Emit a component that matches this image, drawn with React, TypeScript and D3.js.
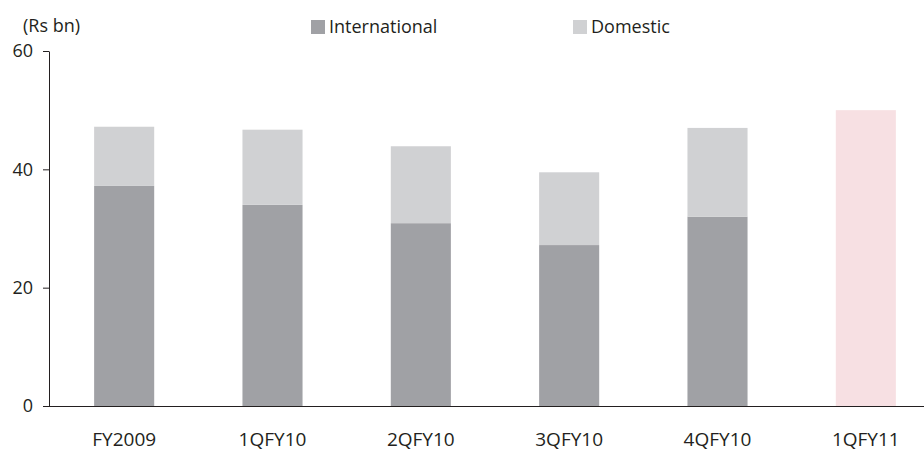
import React, { useRef, useEffect } from "react";
import * as d3 from "d3";

// values in Rs bn
const categories = ["FY2009", "1QFY10", "2QFY10", "3QFY10", "4QFY10", "1QFY11"];
const international = [37.2, 34.0, 30.9, 27.2, 32.0, 0];
const domestic = [10.0, 12.7, 13.0, 12.3, 15.0, 0];
const projected = [0, 0, 0, 0, 0, 50.0];
const yTicks = [0, 20, 40, 60];
const legendLabels = ["International", "Domestic"];

const WIDTH = 924;
const HEIGHT = 452;
const FONT = "'Open Sans', sans-serif";

const colors = {
  international: "#a0a1a5",
  domestic: "#d0d1d3",
  projected: "#f7e0e3",
  axis: "#231f20",
};

interface Row {
  cat: string;
  intl: number;
  dom: number;
  proj: number;
}

const App: React.FC = () => {
  const chartRef = useRef<SVGSVGElement | null>(null);

  useEffect(() => {
    if (!chartRef.current) return;
    const svg = d3.select(chartRef.current);
    svg.selectAll("*").remove();

    const rows: Row[] = categories.map((cat, i) => ({
      cat,
      intl: international[i],
      dom: domestic[i],
      proj: projected[i],
    }));

    const x = d3
      .scaleBand()
      .domain(categories)
      .range([50, 940])
      .paddingInner(0.595)
      .paddingOuter(0.2975);

    const y = d3.scaleLinear().domain([0, 60]).range([406, 51]);

    const axisX = 49;

    // bars
    const bars = svg.append("g");
    bars
      .selectAll("rect.intl")
      .data(rows.filter((d) => d.intl > 0))
      .enter()
      .append("rect")
      .attr("class", "intl")
      .attr("x", (d) => x(d.cat)!)
      .attr("width", x.bandwidth())
      .attr("y", (d) => y(d.intl))
      .attr("height", (d) => y(0) - y(d.intl))
      .attr("fill", colors.international);

    bars
      .selectAll("rect.dom")
      .data(rows.filter((d) => d.dom > 0))
      .enter()
      .append("rect")
      .attr("class", "dom")
      .attr("x", (d) => x(d.cat)!)
      .attr("width", x.bandwidth())
      .attr("y", (d) => y(d.intl + d.dom))
      .attr("height", (d) => y(d.intl) - y(d.intl + d.dom))
      .attr("fill", colors.domestic);

    bars
      .selectAll("rect.proj")
      .data(rows.filter((d) => d.proj > 0))
      .enter()
      .append("rect")
      .attr("class", "proj")
      .attr("x", (d) => x(d.cat)!)
      .attr("width", x.bandwidth())
      .attr("y", (d) => y(d.proj))
      .attr("height", (d) => y(0) - y(d.proj))
      .attr("fill", colors.projected);

    // y axis
    const yAxis = svg
      .append("g")
      .attr("transform", `translate(${axisX},0)`)
      .call(
        d3
          .axisLeft(y)
          .tickValues(yTicks)
          .tickSize(6)
          .tickSizeOuter(0)
          .tickPadding(10)
          .tickFormat((d) => `${d}`)
      );
    yAxis.selectAll("path, line").attr("stroke", colors.axis);
    yAxis
      .selectAll("text")
      .attr("font-family", FONT)
      .attr("font-size", 18)
      .attr("fill", colors.axis);

    // baseline
    svg
      .append("line")
      .attr("x1", axisX - 6)
      .attr("x2", WIDTH)
      .attr("y1", y(0) + 0.5)
      .attr("y2", y(0) + 0.5)
      .attr("stroke", colors.axis)
      .attr("stroke-width", 1.2);

    // category labels
    svg
      .append("g")
      .selectAll("text")
      .data(categories)
      .enter()
      .append("text")
      .attr("x", (d) => x(d)! + x.bandwidth() / 2)
      .attr("y", 446)
      .attr("text-anchor", "middle")
      .attr("font-family", FONT)
      .attr("font-size", 19)
      .attr("fill", colors.axis)
      .text((d) => d);

    // unit label
    svg
      .append("text")
      .attr("x", 23)
      .attr("y", 32)
      .attr("font-family", FONT)
      .attr("font-size", 18)
      .attr("fill", colors.axis)
      .text("(Rs bn)");

    // legend
    const legendX = [311, 573];
    const legendColors = [colors.international, colors.domestic];
    const legend = svg
      .append("g")
      .selectAll("g")
      .data(legendLabels)
      .enter()
      .append("g")
      .attr("transform", (_, i) => `translate(${legendX[i]},20)`);
    legend
      .append("rect")
      .attr("width", 14)
      .attr("height", 14)
      .attr("fill", (_, i) => legendColors[i]);
    legend
      .append("text")
      .attr("x", 18)
      .attr("y", 13)
      .attr("font-family", FONT)
      .attr("font-size", 18)
      .attr("fill", colors.axis)
      .text((d) => d);
  }, []);

  return (
    <svg
      ref={chartRef}
      width={WIDTH}
      height={HEIGHT}
      style={{ position: "absolute", left: 0, top: 0, background: "#fff" }}
    ></svg>
  );
};

export default App;
